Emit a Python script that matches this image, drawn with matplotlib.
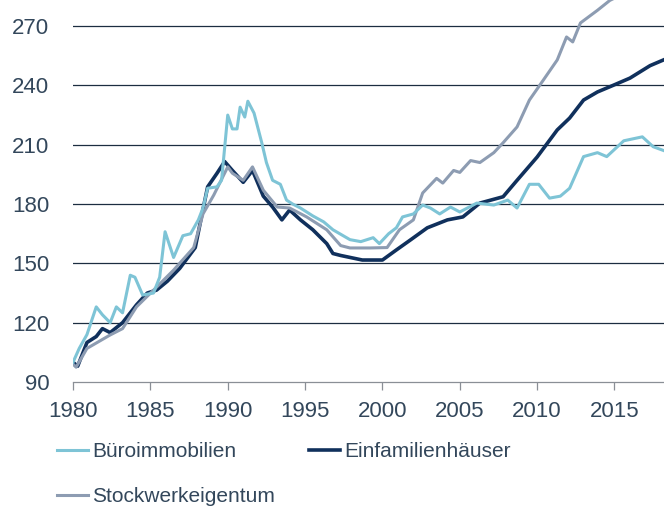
import matplotlib.pyplot as plt

buero_years = [1980.0, 1980.4, 1980.9, 1981.5, 1981.9, 1982.4, 1982.8, 1983.2, 1983.7,
               1984.0, 1984.5, 1985.2, 1985.6, 1985.95, 1986.5, 1987.1, 1987.6, 1988.1,
               1988.4, 1988.7, 1989.3, 1989.6, 1990.0, 1990.3, 1990.6, 1990.8, 1991.1,
               1991.3, 1991.7, 1992.2, 1992.5, 1992.9, 1993.4, 1993.8, 1994.2, 1994.7,
               1995.5, 1996.2, 1996.8, 1997.9, 1998.6, 1999.4, 1999.8, 2000.4, 2000.9,
               2001.3, 2002.0, 2002.6, 2003.1, 2003.7, 2004.4, 2005.0, 2006.1, 2007.2,
               2008.1, 2008.7, 2009.5, 2010.1, 2010.8, 2011.5, 2012.1, 2013.0, 2013.9,
               2014.5, 2015.6, 2016.8, 2017.5, 2018.2]
buero_values = [100, 107, 114, 128, 124, 120, 128, 125, 144,
                143, 134, 135, 143, 166, 153, 164, 165, 172,
                178, 188, 188.7, 192, 225, 218, 218, 229, 224,
                232, 226, 211, 201, 192, 190, 182, 180, 178,
                174, 171, 167, 162, 161, 163, 160, 165, 168,
                173.5, 175, 179.5, 178, 175, 178.5, 176, 180.5, 179.5,
                182, 178, 190, 190, 183, 184, 188, 204, 206,
                204, 212, 214, 209, 207]

efh_years = [1980.0, 1980.3, 1980.9, 1981.5, 1981.9, 1982.4, 1983.2, 1984.1, 1984.8,
             1985.4, 1986.1, 1986.9, 1987.9, 1988.3, 1988.7, 1989.3, 1989.8, 1990.3,
             1991.0, 1991.6, 1992.3, 1992.9, 1993.5, 1994.0, 1994.7, 1995.5, 1996.4,
             1996.8, 1997.3, 1998.7, 2000.0, 2000.9, 2001.8, 2002.9, 2004.2, 2005.2,
             2006.3, 2007.8, 2008.7, 2010.0, 2011.3, 2012.1, 2013.0, 2013.9, 2014.9,
             2016.0, 2017.3, 2018.2]
efh_values = [100, 98, 110, 113, 117, 115, 120, 129, 135,
              136.5, 141, 147.5, 158, 173.5, 188.7, 195.5, 201.5, 197,
              191, 197, 184, 178.5, 172, 177, 172, 167, 160,
              155, 154, 151.7, 151.7, 156.8, 161.8, 168, 172, 173.5,
              180.5, 183.7, 192, 203.8, 217.5, 223.5, 232.6, 236.7, 240,
              243.7, 250, 253]

stwe_years = [1980.0, 1980.2, 1980.9, 1982.4, 1983.2, 1984.1, 1985.4, 1986.5, 1987.8,
              1988.4, 1989.1, 1990.0, 1990.3, 1991.0, 1991.6, 1992.3, 1993.2, 1994.0,
              1995.1, 1996.4, 1997.3, 1997.9, 1999.2, 2000.3, 2001.1, 2002.0, 2002.6,
              2003.5, 2003.9, 2004.6, 2005.0, 2005.7, 2006.3, 2007.2, 2007.8, 2008.7,
              2009.5, 2010.4, 2011.3, 2011.9, 2012.3, 2012.8, 2013.9, 2014.7, 2016.0,
              2018.2]
stwe_values = [99, 97.5, 107, 113.8, 117, 128, 138, 146.6, 158,
               175, 184.6, 198.8, 195.6, 192, 198.8, 187, 178.5, 178,
               173.5, 167, 159, 157.8, 157.8, 158, 167, 172, 185.6,
               193, 190.6, 197, 196, 202, 201, 206, 211, 219,
               232.6, 242.7, 252.9, 264.5, 262, 271.6, 278, 283, 288,
               294]

x_ticks = [1980, 1985, 1990, 1995, 2000, 2005, 2010, 2015]
y_ticks = [90, 120, 150, 180, 210, 240, 270]

plt.rcParams["font.family"] = ["Liberation Sans", "DejaVu Sans"]

text_color = "#33475b"
grid_color = "#1c2d40"

fig = plt.figure(figsize=(6.64, 5.11), dpi=100)
ax = fig.add_axes([0.11, 0.2524, 0.89, 0.7476])

line_efh, = ax.plot(efh_years, efh_values, color="#10305c", lw=2.6, zorder=3,
                    label="Einfamilienhäuser")
line_stwe, = ax.plot(stwe_years, stwe_values, color="#8d9cb2", lw=2.2, zorder=4,
                     label="Stockwerkeigentum")
line_buero, = ax.plot(buero_years, buero_values, color="#7ec4d6", lw=2.2, zorder=5,
                      label="Büroimmobilien")

ax.set_xlim(1980, 2018.2)
ax.set_ylim(90, 283.2)
ax.set_xticks(x_ticks)
ax.set_yticks(y_ticks)

for y in y_ticks[1:]:
    ax.axhline(y, color=grid_color, lw=0.9, zorder=1)

for side in ["top", "right", "left"]:
    ax.spines[side].set_visible(False)
ax.spines["bottom"].set_color("#8a8f96")
ax.spines["bottom"].set_linewidth(0.9)

ax.tick_params(axis="x", direction="out", length=6, width=0.9, color="#8a8f96",
               pad=8, labelsize=16, labelcolor=text_color)
ax.tick_params(axis="y", length=0, pad=17, labelsize=16, labelcolor=text_color)

# column-major fill: Büro / Stockwerk in col 1, Einfamilien in col 2
fig.legend(handles=[line_buero, line_stwe, line_efh], ncol=2, frameon=False,
           loc="upper left", bbox_to_anchor=(0.086, 0.135), fontsize=15,
           handlelength=1.5, handletextpad=0.2, columnspacing=1.6,
           labelspacing=1.25, borderaxespad=0, borderpad=0, labelcolor=text_color)

fig.savefig("out.png", dpi=100)
